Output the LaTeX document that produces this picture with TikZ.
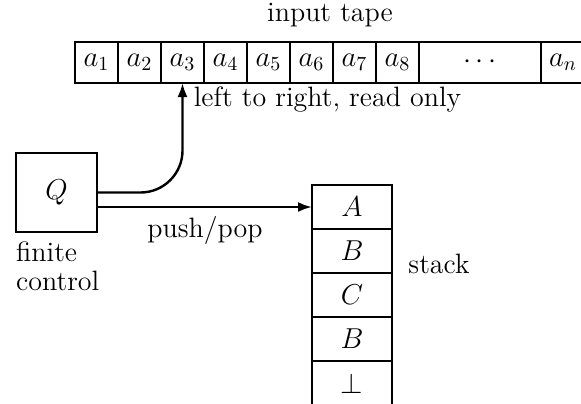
\documentclass[tikz,border=0pt]{standalone}
\usepackage{amssymb}
\usetikzlibrary{positioning,arrows.meta}
\begin{document}
\begin{tikzpicture}[x=0.5pt,y=-0.5pt,line width=1.2pt,>={Latex[length=7pt,width=5pt]},
		cell/.style={draw,minimum height=20.5pt,inner sep=0pt,outer sep=0pt,font=\fontsize{14}{14.5}\selectfont,anchor=west},
		stackcell/.style={draw,minimum width=40pt,minimum height=22pt,inner sep=0pt,outer sep=0pt,font=\fontsize{14}{14.5}\selectfont},
		lbl/.style={draw=none,fill=none,font=\fontsize{14}{14.5}\selectfont}]
		\clip (0,0) rectangle (581,403);
		
		% input tape
		\node[lbl] (tapelabel) at (330,15) {input tape};
		\foreach \i in {1,...,8}
			\node[cell,minimum width=21.5pt] (a\i) at ({75+43*(\i-1)},62.5) {$a_{\i}$};
		\node[cell,minimum width=61pt] (dots) at (a8.east) {$\cdots$};
		\node[cell,minimum width=22pt] (an) at (dots.east) {$a_n$};
		
		% finite control
		\node[draw,minimum width=40.5pt,minimum height=39.5pt,outer sep=0pt,font=\fontsize{14}{14.5}\selectfont] (q) at (56.5,192.5) {$Q$};
		\node[lbl,align=left,anchor=north west,inner sep=0pt] (fclabel) at (15,241) {finite\\control};
		
		% stack
		\foreach \s [count=\k from 0] in {A,B,C,B,\bot}
			\node[stackcell] (s\k) at (352,{207+44*\k}) {$\s$};
		\node[lbl] (stacklabel) at (439,264) {stack};
		
		% connections
		\draw[->,rounded corners=21pt] (q.east) -| (a3.south);
		\node[lbl,anchor=west] (readlabel) at (186,100) {left to right, read only};
		\draw[->] (q.east |- s0.west) -- (s0.west);
		\node[lbl] (pushlabel) at (205,230) {push/pop};
\end{tikzpicture}
\end{document}
